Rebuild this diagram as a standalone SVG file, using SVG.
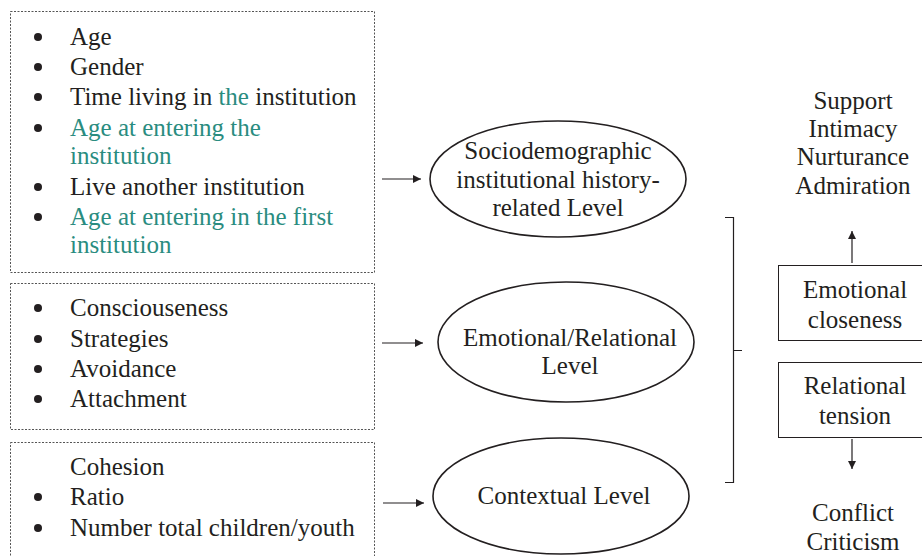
<svg xmlns="http://www.w3.org/2000/svg" width="922" height="556" viewBox="0 0 922 556">
  <style>
    .t { font-size: 25px; fill: #231f20; }
    .teal { fill: #2a8c80; }
    .mid { text-anchor: middle; }
    .panel { fill: none; stroke: #555; stroke-width: 1; stroke-dasharray: 2 1.5; }
    .shape { fill: #fff; stroke: #231f20; stroke-width: 1.6; }
    .box { fill: #fff; stroke: #231f20; stroke-width: 1; }
    .line { fill: none; stroke: #231f20; stroke-width: 1.2; }
    .dot { fill: #231f20; }
  </style>
  <defs>
    <marker id="head" viewBox="0 0 10 10" refX="10" refY="5" markerWidth="10" markerHeight="8" markerUnits="userSpaceOnUse" orient="auto">
      <path d="M0,0 L10,5 L0,10 z" fill="#231f20"/>
    </marker>
  </defs>
  <rect width="922" height="556" fill="#fff"/>

  <!-- Variable panels -->
  <g id="panel-sociodemographic">
    <rect class="panel" x="10.5" y="11.5" width="364" height="261"/>
    <circle class="dot" cx="38" cy="37" r="4"/>
    <text class="t" font-family="Liberation Serif" x="70" y="45">Age</text>
    <circle class="dot" cx="38" cy="67" r="4"/>
    <text class="t" font-family="Liberation Serif" x="70" y="75">Gender</text>
    <circle class="dot" cx="38" cy="97" r="4"/>
    <text class="t" font-family="Liberation Serif" x="70" y="105">Time living in <tspan class="teal">the</tspan> institution</text>
    <circle class="dot" cx="38" cy="128" r="4"/>
    <text class="t teal" font-family="Liberation Serif" x="70" y="136">Age at entering the</text>
    <text class="t teal" font-family="Liberation Serif" x="70" y="164">institution</text>
    <circle class="dot" cx="38" cy="187" r="4"/>
    <text class="t" font-family="Liberation Serif" x="70" y="195">Live another institution</text>
    <circle class="dot" cx="38" cy="217" r="4"/>
    <text class="t teal" font-family="Liberation Serif" x="70" y="225">Age at entering in the first</text>
    <text class="t teal" font-family="Liberation Serif" x="70" y="253">institution</text>
  </g>

  <g id="panel-emotional">
    <rect class="panel" x="10.5" y="283.5" width="364" height="146"/>
    <circle class="dot" cx="38" cy="308" r="4"/>
    <text class="t" font-family="Liberation Serif" x="70" y="316">Consciouseness</text>
    <circle class="dot" cx="38" cy="339" r="4"/>
    <text class="t" font-family="Liberation Serif" x="70" y="347">Strategies</text>
    <circle class="dot" cx="38" cy="369" r="4"/>
    <text class="t" font-family="Liberation Serif" x="70" y="377">Avoidance</text>
    <circle class="dot" cx="38" cy="399" r="4"/>
    <text class="t" font-family="Liberation Serif" x="70" y="407">Attachment</text>
  </g>

  <g id="panel-contextual">
    <rect class="panel" x="10.5" y="442.5" width="364" height="130"/>
    <text class="t" font-family="Liberation Serif" x="70" y="475">Cohesion</text>
    <circle class="dot" cx="38" cy="497" r="4"/>
    <text class="t" font-family="Liberation Serif" x="70" y="505">Ratio</text>
    <circle class="dot" cx="38" cy="528" r="4"/>
    <text class="t" font-family="Liberation Serif" x="70" y="536">Number total children/youth</text>
  </g>

  <!-- Levels -->
  <g id="level-sociodemographic">
    <ellipse class="shape" cx="558" cy="179" rx="128" ry="58"/>
    <text class="t mid" font-family="Liberation Serif" x="558" y="159">Sociodemographic</text>
    <text class="t mid" font-family="Liberation Serif" x="558" y="188">institutional history-</text>
    <text class="t mid" font-family="Liberation Serif" x="558" y="216">related Level</text>
  </g>

  <g id="level-emotional">
    <ellipse class="shape" cx="566" cy="342" rx="128" ry="60"/>
    <text class="t mid" font-family="Liberation Serif" x="570" y="346">Emotional/Relational</text>
    <text class="t mid" font-family="Liberation Serif" x="570" y="374">Level</text>
  </g>

  <g id="level-contextual">
    <ellipse class="shape" cx="561" cy="496" rx="128" ry="58"/>
    <text class="t mid" font-family="Liberation Serif" x="564" y="504">Contextual Level</text>
  </g>

  <!-- Outcomes -->
  <g id="outcome-closeness">
    <rect class="box" x="778.5" y="265.5" width="150" height="75"/>
    <text class="t mid" font-family="Liberation Serif" x="855" y="298">Emotional</text>
    <text class="t mid" font-family="Liberation Serif" x="855" y="328">closeness</text>
  </g>

  <g id="outcome-tension">
    <rect class="box" x="778.5" y="362.5" width="150" height="75"/>
    <text class="t mid" font-family="Liberation Serif" x="855" y="394">Relational</text>
    <text class="t mid" font-family="Liberation Serif" x="855" y="424">tension</text>
  </g>

  <g id="positive-aspects">
    <text class="t mid" font-family="Liberation Serif" x="853" y="109">Support</text>
    <text class="t mid" font-family="Liberation Serif" x="853" y="137">Intimacy</text>
    <text class="t mid" font-family="Liberation Serif" x="853" y="165">Nurturance</text>
    <text class="t mid" font-family="Liberation Serif" x="853" y="194">Admiration</text>
  </g>

  <g id="negative-aspects">
    <text class="t mid" font-family="Liberation Serif" x="853" y="521">Conflict</text>
    <text class="t mid" font-family="Liberation Serif" x="853" y="550">Criticism</text>
  </g>

  <!-- Connectors -->
  <g id="connectors">
    <line class="line" x1="382" y1="179" x2="421" y2="179" marker-end="url(#head)"/>
    <line class="line" x1="382" y1="343" x2="423" y2="343" marker-end="url(#head)"/>
    <line class="line" x1="383" y1="503" x2="424" y2="503" marker-end="url(#head)"/>
    <path class="line" d="M725,217.5 H733.5 V482.5 H725 M733.5,350.5 H742"/>
    <line class="line" x1="852" y1="263" x2="852" y2="231" marker-end="url(#head)"/>
    <line class="line" x1="852" y1="439" x2="852" y2="469" marker-end="url(#head)"/>
  </g>
</svg>
